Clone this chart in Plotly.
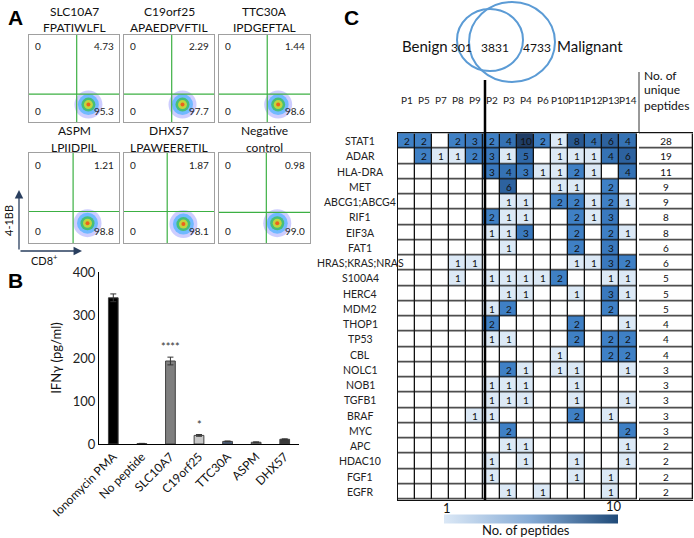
import plotly.graph_objects as go

W, H = 694, 538
FONT = "Lato, Open Sans, sans-serif"

# ---- panel A: flow plots ----
flow_titles = [("SLC10A7", "FPATIWLFL"), ("C19orf25", "APAEDPVFTIL"), ("TTC30A", "IPDGEFTAL"),
               ("ASPM", "LPIIDPIL"), ("DHX57", "LPAWEERETIL"), ("Negative", "control")]
upper_right = [4.73, 2.29, 1.44, 1.21, 1.87, 0.98]
lower_right = [95.3, 97.7, 98.6, 98.8, 98.1, 99.0]
gate_x = [0.53, 0.53, 0.53, 0.49, 0.48, 0.52]
gate_y = [0.32, 0.32, 0.32, 0.35, 0.35, 0.34]
blob_x = [0.66, 0.65, 0.65, 0.65, 0.66, 0.64]
blob_y = [0.20, 0.20, 0.20, 0.22, 0.21, 0.22]

# ---- panel B: IFNg bars ----
conditions = ["Ionomycin PMA", "No peptide", "SLC10A7", "C19orf25", "TTC30A", "ASPM", "DHX57"]
ifng = [340, 1, 193, 20, 6, 4, 11]
ifng_err = [9, 0.5, 9, 2, 1, 1, 1]
bar_colors = ["#000000", "#d9d9d9", "#7f7f7f", "#c9c9c9", "#52698a", "#8c8c8c", "#3a3a3a"]
stars = ["", "", "****", "*", "", "", ""]

# ---- panel C: peptide heatmap ----
patients = ["P1", "P5", "P7", "P8", "P9", "P2", "P3", "P4", "P6", "P10", "P11", "P12", "P13", "P14"]
genes = ["STAT1", "ADAR", "HLA-DRA", "MET", "ABCG1;ABCG4", "RIF1", "EIF3A", "FAT1", "HRAS;KRAS;NRAS",
         "S100A4", "HERC4", "MDM2", "THOP1", "TP53", "CBL", "NOLC1", "NOB1", "TGFB1", "BRAF", "MYC",
         "APC", "HDAC10", "FGF1", "EGFR"]
counts = [
    [2, 2, 0, 2, 3, 2, 4, 10, 2, 1, 8, 4, 6, 4],
    [0, 2, 1, 1, 2, 3, 1, 5, 0, 1, 1, 1, 4, 6],
    [0, 0, 0, 0, 0, 3, 4, 3, 1, 1, 2, 1, 0, 4],
    [0, 0, 0, 0, 0, 0, 6, 0, 0, 1, 1, 0, 2, 0],
    [0, 0, 0, 0, 0, 0, 1, 1, 0, 2, 2, 1, 2, 1],
    [0, 0, 0, 0, 0, 2, 1, 1, 0, 0, 2, 1, 3, 0],
    [0, 0, 0, 0, 0, 1, 1, 3, 0, 0, 2, 0, 2, 1],
    [0, 0, 0, 0, 0, 0, 1, 0, 0, 0, 2, 0, 3, 0],
    [0, 0, 0, 1, 1, 0, 0, 0, 0, 0, 1, 1, 3, 2],
    [0, 0, 0, 1, 0, 1, 1, 1, 1, 2, 0, 0, 1, 1],
    [0, 0, 0, 0, 0, 0, 1, 1, 0, 0, 1, 0, 3, 1],
    [0, 0, 0, 0, 0, 1, 2, 0, 0, 0, 0, 0, 2, 0],
    [0, 0, 0, 0, 0, 2, 0, 0, 0, 0, 2, 0, 0, 1],
    [0, 0, 0, 0, 0, 1, 1, 0, 0, 0, 2, 0, 2, 2],
    [0, 0, 0, 0, 0, 0, 0, 0, 0, 1, 0, 0, 2, 2],
    [0, 0, 0, 0, 0, 0, 2, 1, 0, 1, 1, 0, 0, 1],
    [0, 0, 0, 0, 0, 1, 1, 1, 0, 0, 1, 0, 0, 0],
    [0, 0, 0, 0, 0, 1, 1, 1, 0, 0, 1, 0, 0, 1],
    [0, 0, 0, 0, 1, 1, 0, 0, 0, 0, 2, 0, 1, 0],
    [0, 0, 0, 0, 0, 0, 2, 0, 0, 0, 0, 0, 0, 2],
    [0, 0, 0, 0, 0, 0, 1, 1, 0, 0, 0, 0, 0, 1],
    [0, 0, 0, 0, 0, 1, 0, 1, 0, 0, 1, 0, 0, 1],
    [0, 0, 0, 0, 0, 1, 0, 0, 0, 0, 1, 0, 1, 0],
    [0, 0, 0, 0, 0, 0, 1, 0, 1, 0, 0, 0, 1, 0],
]
unique_peptides = [28, 19, 11, 9, 9, 8, 8, 6, 6, 5, 5, 5, 4, 4, 4, 3, 3, 3, 3, 3, 2, 2, 2, 2]
venn_labels = ["301", "3831", "4733"]


def px(x):
    return x / W


def py(y):
    return 1 - y / H


def label(x, y, text, size=12, xanchor="center", **kw):
    # text placed in pixel coordinates of the page
    return dict(xref="paper", yref="paper", x=px(x), y=py(y), text=text, showarrow=False,
                xanchor=xanchor, yanchor="middle",
                font=dict(size=size, color=kw.pop("color", "#111"), family=kw.pop("family", FONT)), **kw)


fig = go.Figure()
annotations = []
shapes = []

# ---------- panel A ----------
col_px = [(29, 119), (124, 214), (219, 310)]
row_px = [(35, 122), (153, 243)]
blob_sizes = [28, 21, 14, 9, 4]
blob_cols = ["rgba(50,50,255,0.35)", "rgba(0,160,255,0.65)", "#35c040", "#f2e025", "#ff3010"]
for i in range(6):
    r, c = divmod(i, 3)
    n = i + 4
    xa, ya = f"xaxis{n}", f"yaxis{n}"
    fig.update_layout(**{
        xa: dict(domain=[px(col_px[c][0]), px(col_px[c][1])], range=[0, 1], anchor=f"y{n}",
                 showline=True, mirror=True, linecolor="#a0a0a0", linewidth=1,
                 showticklabels=False, showgrid=False, zeroline=False, ticks=""),
        ya: dict(domain=[py(row_px[r][1]), py(row_px[r][0])], range=[0, 1], anchor=f"x{n}",
                 showline=True, mirror=True, linecolor="#a0a0a0", linewidth=1,
                 showticklabels=False, showgrid=False, zeroline=False, ticks=""),
    })
    fig.add_trace(go.Scatter(
        x=[blob_x[i]] * len(blob_sizes), y=[blob_y[i]] * len(blob_sizes),
        xaxis=f"x{n}", yaxis=f"y{n}", mode="markers",
        marker=dict(size=blob_sizes, color=blob_cols, line=dict(width=0)),
        showlegend=False, hoverinfo="skip"))
    shapes.append(dict(type="line", xref=f"x{n}", yref=f"y{n}", x0=gate_x[i], x1=gate_x[i], y0=0, y1=1,
                       line=dict(color="#3cb043", width=1.2)))
    shapes.append(dict(type="line", xref=f"x{n}", yref=f"y{n}", x0=0, x1=1, y0=gate_y[i], y1=gate_y[i],
                       line=dict(color="#3cb043", width=1.2)))
    qf = dict(size=10, color="#222", family=FONT)
    for qx, qy, txt, anc in [(0.04, 0.96, "0", "left"), (0.97, 0.96, f"{upper_right[i]:.2f}", "right"),
                             (0.04, 0.04, "0", "left"), (0.97, 0.04, f"{lower_right[i]:.1f}", "right")]:
        annotations.append(dict(xref=f"x{n}", yref=f"y{n}", x=qx, y=qy, text=txt, showarrow=False,
                                xanchor=anc, yanchor="top" if qy > 0.5 else "bottom", font=qf))
    cx = (col_px[c][0] + col_px[c][1]) / 2
    t0 = [12, 131][r]
    for k, line in enumerate(flow_titles[i]):
        annotations.append(label(cx, t0 + 16 * k, line, size=12))

# axis arrows for flow plots
annotations += [
    dict(xref="paper", yref="paper", x=px(19), y=py(190), ax=0, ay=61, axref="pixel", ayref="pixel",
         showarrow=True, arrowhead=2, arrowsize=1.3, arrowwidth=1.3, text=""),
    dict(xref="paper", yref="paper", x=px(82), y=py(251), ax=-63, ay=0, axref="pixel", ayref="pixel",
         showarrow=True, arrowhead=2, arrowsize=1.3, arrowwidth=1.3, text=""),
    label(9, 221, "4-1BB", size=11, textangle=-90),
    label(44, 259, "CD8<sup>+</sup>", size=11),
]

# ---------- panel B ----------
fig.add_trace(go.Bar(
    x=conditions, y=ifng, width=0.34,
    marker=dict(color=bar_colors, line=dict(color="#404040", width=1)),
    error_y=dict(type="data", array=ifng_err, color="#333", thickness=1, width=3),
    showlegend=False, hoverinfo="skip"))
for cond, v, e, s in zip(conditions, ifng, ifng_err, stars):
    if s:
        annotations.append(dict(xref="x", yref="y", x=cond, y=v + e + 4, text=s, showarrow=False,
                                xanchor="center", yanchor="bottom",
                                font=dict(size=11, color="#333", family=FONT)))
fig.update_layout(
    xaxis=dict(domain=[px(99), px(299)], anchor="y", tickangle=-45, showgrid=False, zeroline=False,
               showline=True, linecolor="#000", linewidth=1.2, ticks="",
               tickfont=dict(size=12, color="#111", family=FONT)),
    yaxis=dict(domain=[py(444), py(272)], anchor="x", range=[0, 400], dtick=100, showgrid=False,
               zeroline=False, showline=True, linecolor="#000", linewidth=1.2, ticks="",
               tickfont=dict(size=13, color="#222", family=FONT),
               title=dict(text="IFNγ (pg/ml)", standoff=8, font=dict(size=13, color="#111", family=FONT))),
)

# ---------- panel C ----------
cell_scale = [[0, "#ffffff"], [0.1, "#dce9f6"], [0.2, "#3f80c5"], [0.3, "#3a79be"], [0.4, "#3572b4"],
              [0.5, "#3069a9"], [0.6, "#2d629f"], [0.8, "#285891"], [1.0, "#1f3d66"]]
cell_text = [[str(v) if v else "" for v in row] for row in counts]
fig.add_trace(go.Heatmap(x=patients, y=genes, z=[[1] * len(patients) for _ in genes],
                         colorscale=[[0, "#111"], [1, "#111"]], showscale=False, hoverinfo="skip",
                         xaxis="x2", yaxis="y2"))
fig.add_trace(go.Heatmap(x=patients, y=genes, z=counts, zmin=0, zmax=10, colorscale=cell_scale,
                         showscale=False, xgap=1.3, ygap=1.3, text=cell_text, texttemplate="%{text}",
                         textfont=dict(size=10, color="#111", family=FONT), hoverinfo="skip",
                         xaxis="x2", yaxis="y2"))
# totals column
fig.add_trace(go.Heatmap(x=["total"], y=genes, z=[[1] for _ in genes],
                         colorscale=[[0, "#111"], [1, "#111"]], showscale=False, hoverinfo="skip",
                         xaxis="x3", yaxis="y2"))
fig.add_trace(go.Heatmap(x=["total"], y=genes, z=[[0] for _ in genes],
                         colorscale=[[0, "#fff"], [1, "#fff"]], showscale=False, xgap=1.3, ygap=1.3,
                         text=[[str(t)] for t in unique_peptides], texttemplate="%{text}",
                         textfont=dict(size=10, color="#111", family=FONT), hoverinfo="skip",
                         xaxis="x3", yaxis="y2"))
# colour key (linear, as in the figure)
fig.add_trace(go.Scatter(x=[None, None], y=[None, None], mode="markers", xaxis="x2", yaxis="y2",
                         marker=dict(color=[1, 10], cmin=1, cmax=10, showscale=True,
                                     colorscale=[[0, "#dbe8f6"], [0.5, "#86abd5"], [1, "#1f4a78"]],
                                     colorbar=dict(orientation="h", x=px(531), xanchor="center",
                                                   y=py(519), yanchor="middle", lenmode="pixels", len=174,
                                                   thickness=9, outlinewidth=0, showticklabels=False,
                                                   ticks="", xpad=0, ypad=0)),
                         showlegend=False, hoverinfo="skip"))

hm_top, hm_bot = 133, 500
fig.update_layout(
    xaxis2=dict(domain=[px(398), px(639)], anchor="y2", showticklabels=False, showgrid=False,
                zeroline=False, showline=True, mirror=True, linecolor="#111", linewidth=1.3, ticks=""),
    yaxis2=dict(domain=[py(hm_bot), py(hm_top)], anchor="x2", autorange="reversed", showticklabels=False,
                showgrid=False, zeroline=False, showline=True, mirror=True, linecolor="#111",
                linewidth=1.3, ticks=""),
    xaxis3=dict(domain=[px(639), px(693)], anchor="y2", showticklabels=False, showgrid=False,
                zeroline=False, showline=True, mirror=True, linecolor="#111", linewidth=1.3, ticks=""),
)
for p in patients:
    annotations.append(dict(xref="x2", yref="paper", x=p, y=py(100), text=p, showarrow=False,
                            xanchor="center", yanchor="middle",
                            font=dict(size=10, color="#222", family=FONT)))
for g in genes:
    annotations.append(dict(xref="paper", yref="y2", x=px(360), y=g, text=g, showarrow=False,
                            xanchor="center", yanchor="middle",
                            font=dict(size=10.5, color="#222", family=FONT)))
for k, line in enumerate(["No. of", "unique", "peptides"]):
    annotations.append(label(642, 75 + 15 * k, line, size=12, xanchor="left"))
shapes += [
    dict(type="line", xref="paper", yref="paper", x0=px(485), x1=px(485), y0=py(80), y1=py(hm_bot),
         line=dict(color="#000", width=2.5)),
    dict(type="line", xref="paper", yref="paper", x0=px(639), x1=px(639), y0=py(72), y1=py(hm_top),
         line=dict(color="#333", width=1)),
]
# colour key labels
annotations += [
    label(447, 508, "1", size=13),
    label(614, 506, "10", size=13),
    label(526, 530, "No. of peptides", size=13),
]

# Venn diagram
shapes += [
    dict(type="circle", xref="paper", yref="paper", x0=px(457), x1=px(523), y0=py(71), y1=py(9),
         line=dict(color="#5b9bd5", width=2)),
    dict(type="circle", xref="paper", yref="paper", x0=px(469), x1=px(555), y0=py(82), y1=py(2),
         line=dict(color="#5b9bd5", width=2)),
]
for txt, xx in zip(venn_labels, [461, 495, 537]):
    annotations.append(label(xx, 47, txt, size=12))
annotations += [label(425, 46, "Benign", size=15), label(590, 46, "Malignant", size=15)]

# panel letters
for letter, lx, ly in [("A", 16, 17), ("B", 16, 280), ("C", 351, 17)]:
    annotations.append(label(lx, ly, f"<b>{letter}</b>", size=21, color="#000", family="Arial"))

fig.update_layout(
    width=W, height=H, margin=dict(l=0, r=0, t=0, b=0, autoexpand=False),
    paper_bgcolor="white", plot_bgcolor="white",
    showlegend=False, annotations=annotations, shapes=shapes,
    font=dict(family=FONT, color="#111"),
)

fig.write_html("out.html", config={"displayModeBar": False},
               post_script="document.body.style.margin='0';")
